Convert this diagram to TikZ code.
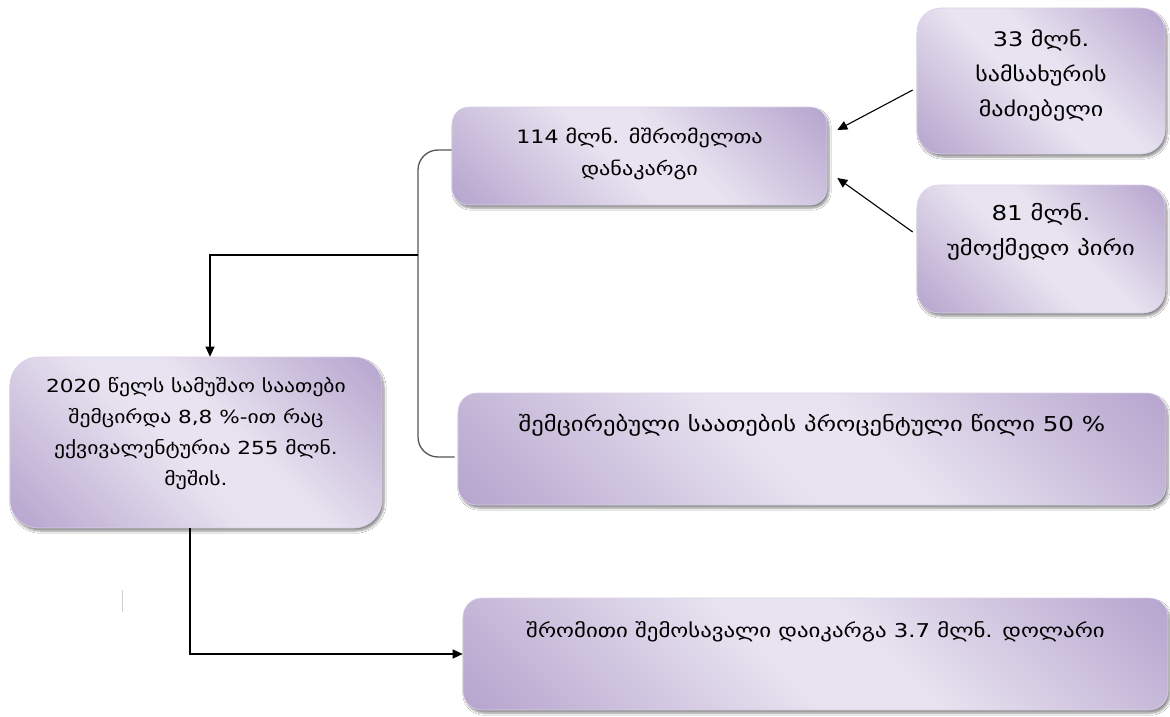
\documentclass[tikz,border=0pt]{standalone}
\usepackage{fontspec}
\setmainfont[FakeStretch=1.2]{DejaVu Sans}
\usetikzlibrary{arrows.meta,shadows.blur,calc}
\definecolor{dk}{HTML}{AE9AC8}
\definecolor{lt}{HTML}{E8E3F0}
\definecolor{boxedge}{HTML}{D9D0E6}
\definecolor{brk}{HTML}{555555}
\pgfdeclarehorizontalshading{boxgrad}{100bp}{color(0bp)=(dk);color(10bp)=(dk);color(46bp)=(lt);color(56bp)=(lt);color(90bp)=(dk);color(100bp)=(dk)}
\begin{document}
\begin{tikzpicture}[x=1pt,y=-1pt,
  box/.style={rectangle, rounded corners=#1, shading=boxgrad, shading angle=45,
    draw=boxedge, line width=0.6pt, inner sep=0pt,
    blur shadow={shadow xshift=2pt, shadow yshift=-3pt, shadow blur steps=6, shadow opacity=45}},
  txt/.style={align=center, inner sep=0pt, text=black},
  arr/.style={draw=black, line width=1.1pt, -{Triangle[length=10pt,width=9pt]}},
  brace/.style={draw=brk, line width=1.3pt, rounded corners=20pt}]
\useasboundingbox[fill=white] (0,0) rectangle (1170,717);

% boxes
\node[box=17pt, minimum width=375pt, minimum height=98pt] (A) at (639.5,156) {};
\node[box=24pt, minimum width=248pt, minimum height=146pt] (B) at (1041,81) {};
\node[box=22pt, minimum width=248pt, minimum height=128pt] (C) at (1041,249) {};
\node[box=28pt, minimum width=372pt, minimum height=171pt] (D) at (196,442.5) {};
\node[box=19pt, minimum width=708pt, minimum height=112pt] (E) at (812,449) {};
\node[box=19pt, minimum width=705pt, minimum height=112pt] (F) at (815.5,654) {};

% texts
\node[txt, font=\fontsize{18.5}{32}\selectfont] (At) at ($(A.center)+(0,-2)$) {114 მლნ. მშრომელთა\\დანაკარგი};
\node[txt, font=\fontsize{20}{35}\selectfont] (Bt) at ($(B.center)+(0,-6)$) {33 მლნ.\\სამსახურის\\მაძიებელი};
\node[txt, font=\fontsize{20.5}{35}\selectfont] (Ct) at ($(C.center)+(0,-17)$) {81 მლნ.\\უმოქმედო პირი};
\node[txt, font=\fontsize{18}{31}\selectfont] (Dt) at ($(D.center)+(0,-9)$) {2020 წელს სამუშაო საათები\\შემცირდა 8,8 \%-ით რაც\\ექვივალენტურია 255 მლნ.\\მუშის.};
\node[txt, font=\fontsize{20.5}{33}\selectfont] (Et) at ($(E.center)+(0,-24)$) {შემცირებული საათების პროცენტული წილი 50 \%};
\node[txt, font=\fontsize{19}{33}\selectfont] (Ft) at ($(F.center)+(0,-22)$) {შრომითი შემოსავალი დაიკარგა 3.7 მლნ. დოლარი};

% arrows into A
\draw[arr] ($(B.west)+(-4,9)$) -- ($(A.east)+(10,-26)$);
\draw[arr] ($(C.west)+(-4,-17)$) -- ($(A.east)+(10,22)$);

% bracket
\coordinate (j) at (418,255);
\draw[brace] ($(A.west)+(0,-6)$) -- (418,150) -- (418,457) -- ($(E.west)+(-3,8)$);
\draw[arr] (j) -| ($(D.north)+(14,0)$);

% D to F
\draw[arr] ($(D.south)+(-6,0)$) |- (F.west);

% faint mark
\draw[black!18, line width=1pt] (122,590) -- (122,612);
\end{tikzpicture}
\end{document}
